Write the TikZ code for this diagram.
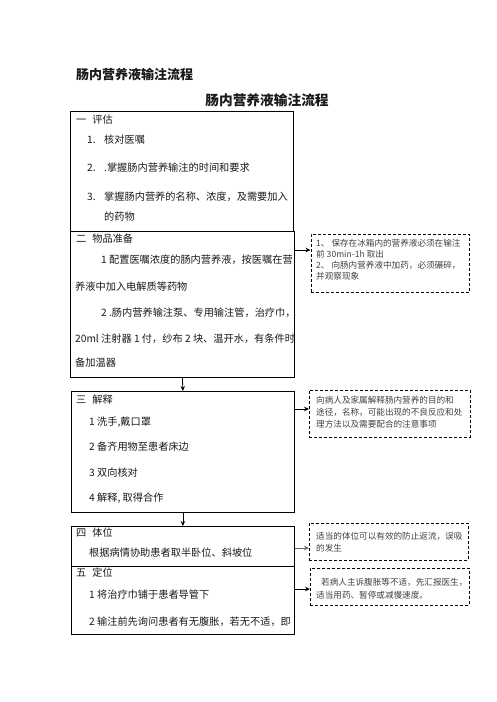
\documentclass[tikz,border=0pt]{standalone}
\usepackage{fontspec}
\setmainfont{Noto Sans CJK SC}
\usetikzlibrary{arrows.meta,positioning}

\begin{document}
\begin{tikzpicture}[
    x=1pt, y=-1pt,
    every node/.style={inner sep=0pt, text=black!90},
    box/.style={rectangle, draw, line width=0.8pt, anchor=north west},
    notebox/.style={rectangle, draw, dashed, dash pattern=on 3pt off 2pt, line width=0.8pt, anchor=north west},
    txt/.style={anchor=west, font=\fontsize{10.2}{12}\selectfont},
    note/.style={anchor=west, font=\fontsize{8.6}{10}\selectfont, text=black!75},
    arrow/.style={-{Stealth[length=5pt,width=4.5pt]}, line width=0.8pt},
]

% Page frame
\useasboundingbox (0,0) rectangle (496,702);

% Titles
\node[anchor=west, font=\fontsize{13}{15}\selectfont\bfseries] (doctitle) at (76,75) {肠内营养液输注流程};
\node[font=\fontsize{13.7}{16}\selectfont\bfseries] (title) at (267,100) {肠内营养液输注流程};

% Steps
\node[box, minimum width=223pt, minimum height=120pt] (pinggu) at (70,111) {};
\node[box, minimum width=224pt, minimum height=146pt] (zhunbei) at (70,231) {};
\node[box, minimum width=223pt, minimum height=121pt] (jieshi) at (71,391) {};
\node[box, minimum width=223pt, minimum height=40pt] (tiwei) at (71,526) {};
\node[box, minimum width=223pt, minimum height=68pt] (dingwei) at (71,566) {};

% Step 1
\node[txt] (s1) at (76,120) {一\hspace{6pt}评估};
\node[txt] (s1n1) at (87,140) {1.};
\node[txt] (s1a) at (104,140) {核对医嘱};
\node[txt] (s1n2) at (87,168) {2.};
\node[txt] (s1b) at (104,168) {.掌握肠内营养输注的时间和要求};
\node[txt] (s1n3) at (87,197) {3.};
\node[txt] (s1c) at (104,197) {掌握肠内营养的名称、浓度，及需要加入};
\node[txt] (s1d) at (104,217) {的药物};

% Step 2
\node[txt] (s2) at (76,239) {二\hspace{6pt}物品准备};
\node[txt] (s2a) at (101,260) {1 配置医嘱浓度的肠内营养液，按医嘱在营};
\node[txt] (s2b) at (75,287) {养液中加入电解质等药物};
\node[txt] (s2c) at (101,313) {2 .肠内营养输注泵、专用输注管，治疗巾，};
\node[txt] (s2d) at (75,339) {20ml 注射器 1 付，纱布 2 块、温开水，有条件时};
\node[txt] (s2e) at (75,363) {备加温器};

% Step 3
\node[txt] (s3) at (76,400) {三\hspace{6pt}解释};
\node[txt] (s3a) at (89,422) {1 洗手,戴口罩};
\node[txt] (s3b) at (89,447) {2 备齐用物至患者床边};
\node[txt] (s3c) at (89,473) {3 双向核对};
\node[txt] (s3d) at (89,498) {4 解释, 取得合作};

% Step 4
\node[txt] (s4) at (76,533) {四\hspace{6pt}体位};
\node[txt] (s4a) at (89,553) {根据病情协助患者取半卧位、斜坡位};

% Step 5
\node[txt] (s5) at (76,573) {五\hspace{6pt}定位};
\node[txt] (s5a) at (89,595) {1 将治疗巾铺于患者导管下};
\node[txt] (s5b) at (89,622) {2 输注前先询问患者有无腹胀，若无不适，即};

% Notes
\node[notebox, minimum width=158.5pt, minimum height=58pt] (note1) at (310.5,234) {};
\node[notebox, minimum width=161pt, minimum height=47pt] (note2) at (309,390) {};
\node[notebox, minimum width=159pt, minimum height=37pt] (note3) at (309,523) {};
\node[notebox, minimum width=159pt, minimum height=37pt] (note4) at (310,568) {};

\node[note] (n1a) at (316,243) {1、 保存在冰箱内的营养液必须在输注};
\node[note] (n1b) at (316,254) {前 30min-1h 取出};
\node[note] (n1c) at (316,265) {2、 向肠内营养液中加药，必须碾碎，};
\node[note] (n1d) at (316,276) {并观察现象};
\node[note] (n2a) at (316,400) {向病人及家属解释肠内营养的目的和};
\node[note] (n2b) at (316,412) {途径，名称，可能出现的不良反应和处};
\node[note] (n2c) at (316,424) {理方法以及需要配合的注意事项};
\node[note] (n3a) at (316,536) {适当的体位可以有效的防止返流，误吸};
\node[note] (n3b) at (316,548) {的发生};
\node[note] (n4a) at (321,582) {若病人主诉腹胀等不适，先汇报医生，};
\node[note] (n4b) at (316,595) {适当用药、暂停或减慢速度。};

% Arrows down
\draw[arrow] (zhunbei.south) -- (jieshi.north);
\draw[arrow] (jieshi.south) -- (tiwei.north);

% Arrows to notes
\coordinate (a1) at (0,250);
\coordinate (a2) at (0,409);
\coordinate (a3) at (0,548);
\coordinate (a4) at (0,589);
\draw[arrow] (zhunbei.east |- a1) -- (note1.west |- a1);
\draw[arrow] (jieshi.east |- a2) -- (note2.west |- a2);
\draw[arrow, black!60] (tiwei.east |- a3) -- (note3.west |- a3);
\draw[arrow] (dingwei.east |- a4) -- (note4.west |- a4);

\end{tikzpicture}
\end{document}
